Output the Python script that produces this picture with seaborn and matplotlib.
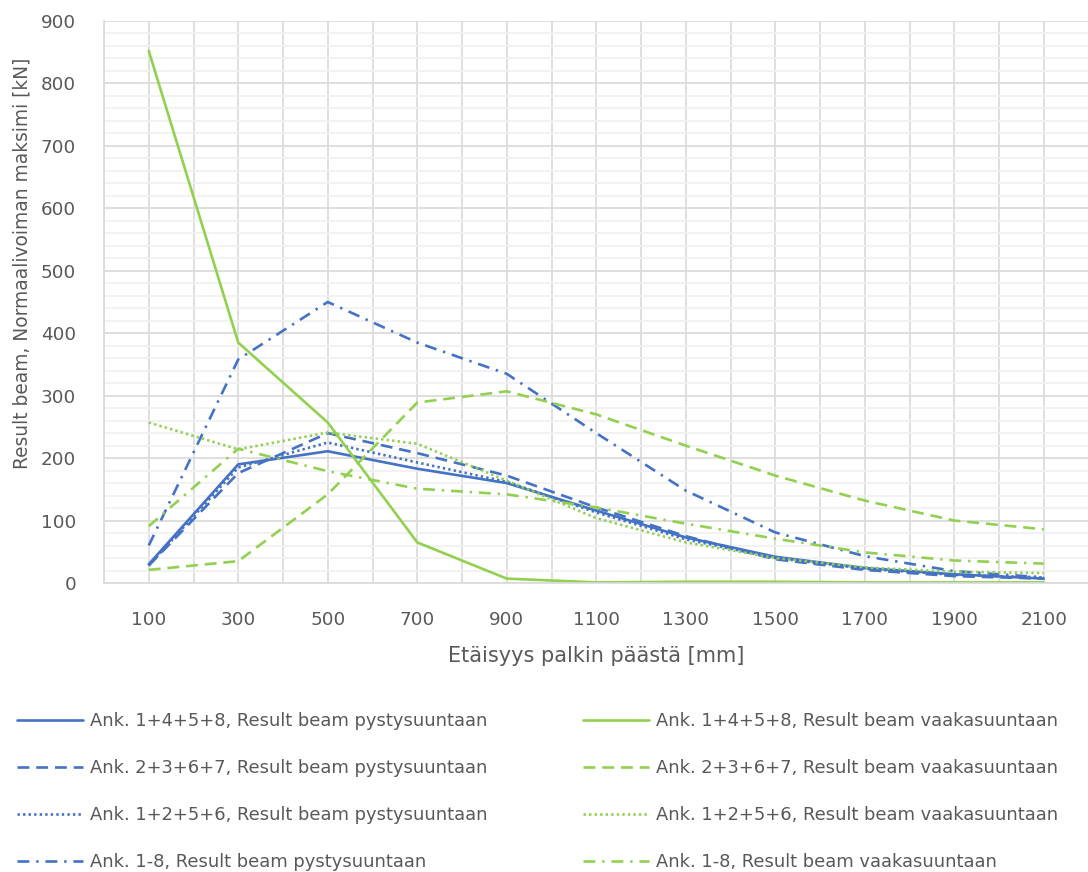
import matplotlib
matplotlib.use("Agg")
import matplotlib.pyplot as plt
from matplotlib.lines import Line2D
from matplotlib.ticker import MultipleLocator
import seaborn as sns

# Distance from the beam end [mm]
etaisyys = [100, 300, 500, 700, 900, 1100, 1300, 1500, 1700, 1900, 2100]

# Maximum normal force [kN], vertical direction (pystysuuntaan)
pysty_1458 = [30, 190, 211, 183, 160, 116, 73, 42, 24, 14, 7]
pysty_2367 = [28, 176, 240, 208, 172, 121, 75, 38, 21, 11, 7]
pysty_1256 = [28, 185, 225, 193, 162, 113, 70, 40, 23, 13, 9]
pysty_1_8 = [60, 358, 450, 385, 335, 240, 148, 81, 43, 19, 9]

# Maximum normal force [kN], horizontal direction (vaakasuuntaan)
vaaka_1458 = [852, 385, 257, 65, 7, 1, 2, 2, 1, 1, 1]
vaaka_2367 = [21, 35, 142, 289, 307, 270, 220, 172, 132, 100, 86]
vaaka_1256 = [257, 214, 241, 223, 164, 104, 65, 40, 25, 18, 16]
vaaka_1_8 = [91, 215, 179, 151, 142, 121, 95, 71, 49, 36, 31]

labels_pysty = [
    "Ank. 1+4+5+8, Result beam pystysuuntaan",
    "Ank. 2+3+6+7, Result beam pystysuuntaan",
    "Ank. 1+2+5+6, Result beam pystysuuntaan",
    "Ank. 1-8, Result beam pystysuuntaan",
]
labels_vaaka = [
    "Ank. 1+4+5+8, Result beam vaakasuuntaan",
    "Ank. 2+3+6+7, Result beam vaakasuuntaan",
    "Ank. 1+2+5+6, Result beam vaakasuuntaan",
    "Ank. 1-8, Result beam vaakasuuntaan",
]

x_ticks = [100, 300, 500, 700, 900, 1100, 1300, 1500, 1700, 1900, 2100]
y_ticks = [0, 100, 200, 300, 400, 500, 600, 700, 800, 900]

sns.set_theme(style="white")
plt.rcParams["font.family"] = ["DejaVu Sans"]

BLUE = "#4472C4"
GREEN = "#92D050"
TEXT = "#595959"
# solid, dash, round dot, dash-dot
styles = ["-", (0, (4.5, 2.6)), (0, (0.9, 1.2)), (0, (4.5, 2.6, 0.9, 2.6))]

fig = plt.figure(figsize=(10.88, 8.72), dpi=100)
ax = fig.add_axes([104 / 1088, 1 - 583 / 872, (1088.5 - 104) / 1088, (583 - 21) / 872])

lw = 1.9
for vals, lab, ls in zip([pysty_1458, pysty_2367, pysty_1256, pysty_1_8], labels_pysty, styles):
    sns.lineplot(x=etaisyys, y=vals, ax=ax, color=BLUE, linewidth=lw, linestyle=ls,
                 label=lab, legend=False)
for vals, lab, ls in zip([vaaka_1458, vaaka_2367, vaaka_1256, vaaka_1_8], labels_vaaka, styles):
    sns.lineplot(x=etaisyys, y=vals, ax=ax, color=GREEN, linewidth=lw, linestyle=ls,
                 label=lab, legend=False)

ax.set_xlim(0, 2200)
ax.set_ylim(0, 900)
ax.set_xticks(x_ticks)
ax.set_xticklabels([str(v) for v in x_ticks])
ax.set_yticks(y_ticks)
ax.set_yticklabels([str(v) for v in y_ticks])
ax.xaxis.set_minor_locator(MultipleLocator(100))
ax.yaxis.set_minor_locator(MultipleLocator(20))
ax.grid(which="major", color="#D9D9D9", linewidth=1.2)
ax.grid(which="minor", axis="y", color="#F0F0F0", linewidth=1.2)
ax.grid(which="minor", axis="x", color="#D9D9D9", linewidth=1.2)
ax.set_axisbelow(True)
for side in ["top", "right"]:
    ax.spines[side].set_visible(False)
for side in ["left", "bottom"]:
    ax.spines[side].set_color("#D9D9D9")
    ax.spines[side].set_linewidth(1.2)
ax.tick_params(axis="both", which="both", length=0, labelsize=13.2, colors=TEXT)
ax.tick_params(axis="x", pad=20)
ax.tick_params(axis="y", pad=20)

ax.set_xlabel("")
ax.set_ylabel("")
fig.text(596 / 1088, 1 - 656 / 872, "Etäisyys palkin päästä [mm]", ha="center", va="center",
         fontsize=15, color=TEXT)
fig.text(22 / 1088, 1 - 263 / 872, "Result beam, Normaalivoiman maksimi [kN]", ha="center",
         va="center", rotation=90, fontsize=13.4, color=TEXT)

h_blue = [Line2D([], [], color=BLUE, linewidth=lw, linestyle=ls) for ls in styles]
h_green = [Line2D([], [], color=GREEN, linewidth=lw, linestyle=ls) for ls in styles]
common = dict(loc="upper left", frameon=False, fontsize=12.9, labelcolor=TEXT,
              handlelength=3.7, handletextpad=0.4, labelspacing=1.62,
              borderpad=0, borderaxespad=0)
fig.legend(h_blue, labels_pysty, bbox_to_anchor=(17 / 1088, 1 - 712 / 872), **common)
fig.legend(h_green, labels_vaaka, bbox_to_anchor=(583 / 1088, 1 - 712 / 872), **common)

fig.savefig("out.png", dpi=100)
